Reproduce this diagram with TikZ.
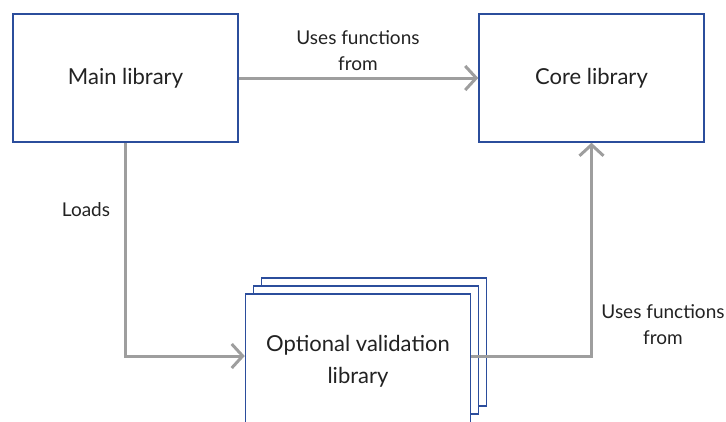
\documentclass[tikz,border=0pt]{standalone}
\usepackage{fontspec}
\setmainfont{Lato}
\usepackage{tikz}
\usetikzlibrary{arrows.meta,positioning}
\definecolor{cBorder}{RGB}{43,77,156}
\definecolor{cArrow}{RGB}{158,158,158}
\definecolor{cText}{RGB}{34,34,34}
\tikzset{
  libnode/.style={rectangle,draw=cBorder,line width=1.5pt,fill=white,
                  minimum width=225pt,minimum height=128pt,
                  align=center,text=cText,
                  font=\fontsize{22}{32}\selectfont},
  lbl/.style={align=center,text=cText,
              font=\fontsize{19}{26}\selectfont},
  arr/.style={-{Straight Barb[length=11pt,width=24pt,line width=3pt]},
              line width=3pt,color=cArrow}
}
\begin{document}
\begin{tikzpicture}[x=1pt,y=-1pt]
  \useasboundingbox (0,0) rectangle (726,421);
  \clip (0,0) rectangle (726,421);

  % Top row
  \node[libnode] (main) at (125.5,78) {Main library};
  \node[libnode] (core) at (591.5,78) {Core library};

  % Optional library, drawn as a stack (front one runs off the bottom)
  \node[libnode] (opt3) at (374,342) {};
  \node[libnode] (opt2) at (366,350) {};
  \node[libnode,minimum height=134pt] (opt) at (358,361) {Optional validation\\library};

  % Connections
  \draw[arr] (main.east) -- (core.west);
  \draw[arr] (main.south) |- ([yshift=5pt]opt.west);
  \draw[arr] ([yshift=5pt]opt.east) -| (core.south);

  % Labels
  \node[lbl] (usesTop)   at (358,51)  {Uses functions\\from};
  \node[lbl] (loads)     at (86,210)  {Loads};
  \node[lbl] (usesRight) at (663,325) {Uses functions\\from};

\end{tikzpicture}
\end{document}
